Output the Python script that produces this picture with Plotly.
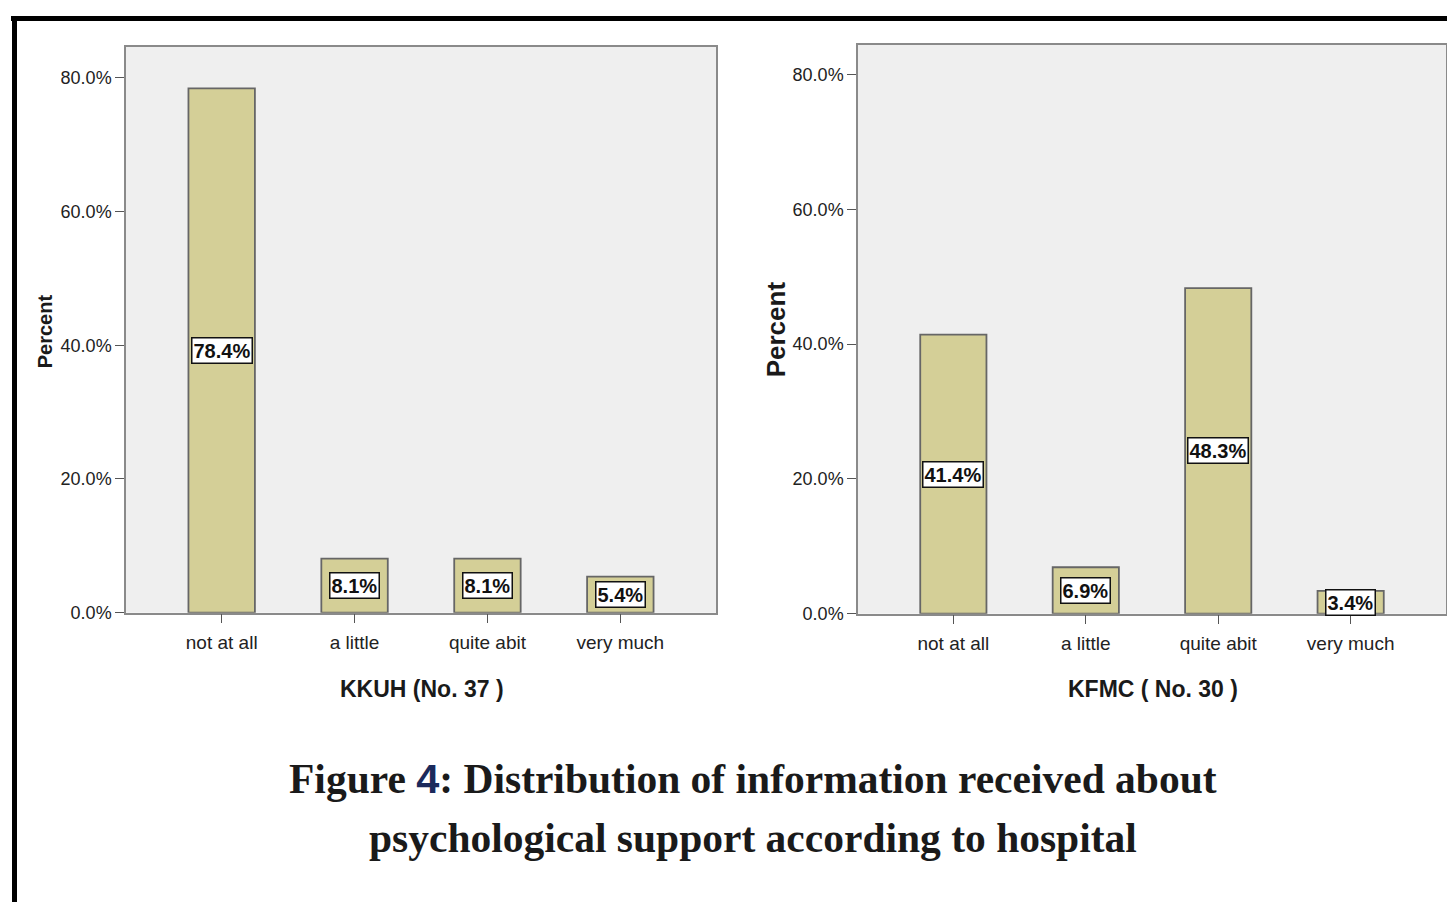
import plotly.graph_objects as go
from plotly.subplots import make_subplots

categories = ["not at all", "a little", "quite abit", "very much"]
kkuh_pct = [78.4, 8.1, 8.1, 5.4]
kfmc_pct = [41.4, 6.9, 48.3, 3.4]
y_ticks = [0, 20, 40, 60, 80]

W, H = 1455, 904
OX, OY, SY = 7, 6, 0.991  # offset / vertical scale seen in the rendered page

def px_x(v):
    return (v - OX) / W

def px_y(v):
    return 1 - (v - OY) / SY / H

fig = make_subplots(rows=1, cols=2)

bar_fill = "#D4CF97"
bar_line = "#666666"

fig.add_trace(go.Bar(x=categories, y=kkuh_pct, width=0.5,
                     marker=dict(color=bar_fill, line=dict(color=bar_line, width=1.8)),
                     showlegend=False), row=1, col=1)
fig.add_trace(go.Bar(x=categories, y=kfmc_pct, width=0.5,
                     marker=dict(color=bar_fill, line=dict(color=bar_line, width=1.8)),
                     showlegend=False), row=1, col=2)

axis_common = dict(showline=True, linecolor="#8a8a8a", linewidth=1.5, mirror=True,
                   ticks="outside", ticklen=9, tickcolor="#555", tickwidth=1,
                   showgrid=False, zeroline=False)

fig.update_xaxes(**axis_common, range=[-0.72, 3.72], ticklabelstandoff=3,
                 tickfont=dict(family="Liberation Sans, Arial", size=19, color="#222"))
fig.update_yaxes(**axis_common, range=[0, 84.6], tickvals=y_ticks,
                 ticktext=[f"{t:.1f}%" for t in y_ticks],
                 tickfont=dict(family="Liberation Sans, Arial", size=18, color="#222"))

fig.update_layout(
    xaxis=dict(domain=[px_x(125), px_x(715)]),
    xaxis2=dict(domain=[px_x(857), px_x(1445)]),
    yaxis=dict(domain=[px_y(612), px_y(45)]),
    yaxis2=dict(domain=[px_y(613), px_y(43)], range=[0, 84.4]),
)

annotations = []
for xr, yr, vals in (("x", "y", kkuh_pct), ("x2", "y2", kfmc_pct)):
    for c, v in zip(categories, vals):
        annotations.append(dict(x=c, y=v / 2, xref=xr, yref=yr, text=f"<b>{v}%</b>",
                                showarrow=False, bgcolor="white", bordercolor="#111",
                                borderwidth=1.5, borderpad=1,
                                font=dict(family="Liberation Sans, Arial", size=20, color="#111")))

def label(x, y, text, size, angle=0, family="Liberation Sans, Arial"):
    return dict(x=px_x(x), y=px_y(y), xref="paper", yref="paper", text=text,
                xanchor="center", yanchor="middle", textangle=angle, showarrow=False,
                font=dict(family=family, size=size, color="#1a1a1a"))

# axis titles
annotations += [
    label(421, 688, "<b>KKUH (No. 37 )</b>", 23),
    label(1152, 688, "<b>KFMC ( No. 30 )</b>", 23),
    label(44, 330, "<b>Percent</b>", 20, -90),
    label(775, 328, "<b>Percent</b>", 26, -90),
]

# figure caption
serif = "Liberation Serif, Times New Roman"
annotations += [
    label(752, 778, "<b>Figure <span style='font-family:Liberation Sans;color:#1B2A5C'>4</span>: "
                    "Distribution of information received about</b>", 41.5, family=serif),
    label(752, 838, "<b>psychological support according to hospital</b>", 41.5, family=serif),
]

shapes = [
    dict(type="line", xref="paper", yref="paper", x0=px_x(10), x1=1, y0=px_y(16.5), y1=px_y(16.5),
         line=dict(color="black", width=5)),
    dict(type="line", xref="paper", yref="paper", x0=px_x(13.5), x1=px_x(13.5), y0=px_y(14), y1=0,
         line=dict(color="black", width=5)),
]

fig.update_layout(
    width=W, height=H,
    margin=dict(l=0, r=0, t=0, b=0),
    paper_bgcolor="white",
    plot_bgcolor="#EFEFEF",
    annotations=annotations,
    shapes=shapes,
)

fig.write_html("out.html")
